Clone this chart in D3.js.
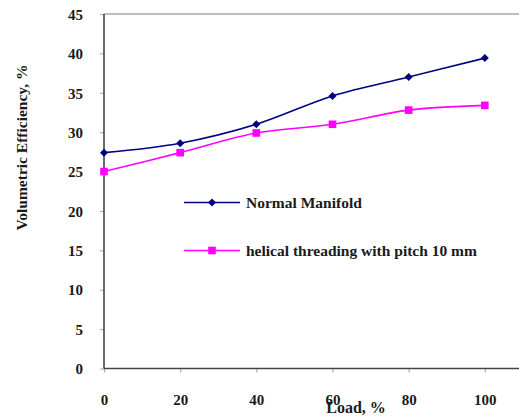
<!DOCTYPE html>
<html>
<head>
<meta charset="utf-8">
<script src="https://cdn.jsdelivr.net/npm/d3@7/dist/d3.min.js"></script>
<style>
  html, body { margin: 0; padding: 0; background: #fff; }
  svg { display: block; }
  text { font-family: "Liberation Serif", "DejaVu Serif", serif; font-weight: bold; fill: #1a1a1a; }
</style>
</head>
<body>
<svg id="chart" width="519" height="419"></svg>
<script>
// Load levels (%) and volumetric efficiency (%) for each intake manifold
const loads = [0, 20, 40, 60, 80, 100];
const normalManifold = [27.4, 28.6, 31.0, 34.6, 37.0, 39.4];
const helicalThreading = [25.0, 27.4, 29.9, 31.0, 32.8, 33.4];
const yTicks = [0, 5, 10, 15, 20, 25, 30, 35, 40, 45];
const xTicks = [0, 20, 40, 60, 80, 100];
const seriesNames = ["Normal Manifold", "helical threading with pitch 10 mm"];

const svg = d3.select("#chart");
const W = 519, H = 419;

// Plot frame: the x axis runs on beyond 100 and is cut off by the right edge
const x = d3.scaleLinear().domain([0, 120]).range([104, 561]);
const y = d3.scaleLinear().domain([0, 45]).range([368.5, 14]);

// Top gridline at 45
svg.append("line")
  .attr("x1", x(0)).attr("x2", W)
  .attr("y1", y(45)).attr("y2", y(45))
  .attr("stroke", "#a8a8a8").attr("stroke-width", 1.5);

// Y axis
const yAxis = d3.axisLeft(y).tickValues(yTicks).tickSize(4).tickPadding(17);
const gy = svg.append("g").attr("transform", `translate(${x(0)},0)`).call(yAxis);
gy.select(".domain").remove();
gy.selectAll(".tick line").attr("stroke", "#b0b0b0").attr("stroke-width", 1.2);
gy.selectAll(".tick text").attr("font-size", 15).attr("dy", "0.35em")
  .style("font-family", "'Liberation Serif', serif").style("font-weight", "bold").attr("fill", "#1a1a1a");
svg.append("line")
  .attr("x1", x(0)).attr("x2", x(0))
  .attr("y1", y(45)).attr("y2", y(0))
  .attr("stroke", "#444").attr("stroke-width", 1.6);

// X axis
const xAxis = d3.axisBottom(x).tickValues(xTicks).tickSize(4).tickPadding(22);
const gx = svg.append("g").attr("transform", `translate(0,${y(0)})`).call(xAxis);
gx.select(".domain").remove();
gx.selectAll(".tick line").attr("stroke", "#b0b0b0").attr("stroke-width", 1.2);
gx.selectAll(".tick text").attr("font-size", 15)
  .style("font-family", "'Liberation Serif', serif").style("font-weight", "bold").attr("fill", "#1a1a1a");
svg.append("line")
  .attr("x1", x(0)).attr("x2", W)
  .attr("y1", y(0)).attr("y2", y(0))
  .attr("stroke", "#444").attr("stroke-width", 1.6);

// Axis titles
svg.append("text")
  .attr("transform", "translate(27,147.5) rotate(-90)")
  .attr("text-anchor", "middle")
  .attr("font-size", 15.5)
  .text("Volumetric Efficiency, %");
svg.append("text")
  .attr("x", 356).attr("y", 413)
  .attr("text-anchor", "middle")
  .attr("font-size", 16)
  .text("Load, %");

// Series lines (smoothed)
const line = d3.line()
  .x((d, i) => x(loads[i]))
  .y(d => y(d))
  .curve(d3.curveCatmullRom.alpha(0.5));

const series = [
  { values: normalManifold, color: "#000080", marker: "diamond" },
  { values: helicalThreading, color: "#ff00ff", marker: "square" }
];

function drawMarker(g, type, cx, cy, color) {
  if (type === "diamond") {
    const s = 4;
    g.append("path")
      .attr("d", `M${cx},${cy - s}L${cx + s},${cy}L${cx},${cy + s}L${cx - s},${cy}Z`)
      .attr("fill", color);
  } else {
    const s = 3.8;
    g.append("rect")
      .attr("x", cx - s).attr("y", cy - s)
      .attr("width", 2 * s).attr("height", 2 * s)
      .attr("fill", color);
  }
}

series.forEach(s => {
  svg.append("path")
    .datum(s.values)
    .attr("d", line)
    .attr("fill", "none")
    .attr("stroke", s.color)
    .attr("stroke-width", 1.6);
  const g = svg.append("g");
  s.values.forEach((v, i) => drawMarker(g, s.marker, x(loads[i]), y(v), s.color));
});

// Legend
const legendY = [202.5, 250.5];
series.forEach((s, i) => {
  const g = svg.append("g");
  g.append("line")
    .attr("x1", 184).attr("x2", 240)
    .attr("y1", legendY[i]).attr("y2", legendY[i])
    .attr("stroke", s.color).attr("stroke-width", 1.6);
  drawMarker(g, s.marker, 212, legendY[i], s.color);
  g.append("text")
    .attr("x", 246).attr("y", legendY[i])
    .attr("dy", "0.35em")
    .attr("font-size", 15.5)
    .text(seriesNames[i]);
});
</script>
</body>
</html>
